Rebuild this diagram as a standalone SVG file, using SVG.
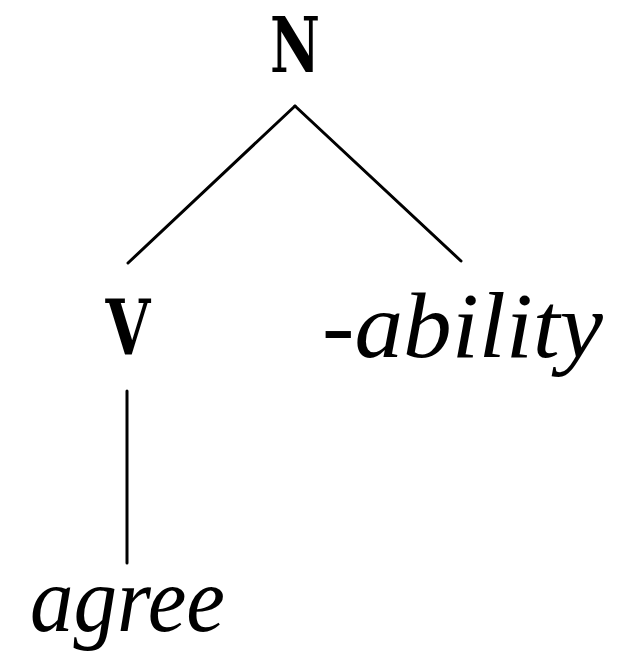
<svg xmlns="http://www.w3.org/2000/svg" width="638" height="656" viewBox="0 0 638 656">
<style>
.mono{font-family:"DejaVu Serif","Liberation Serif",serif;font-size:76px;font-weight:bold;fill:#000;text-anchor:middle}
.it{font-family:"Liberation Serif","DejaVu Serif",serif;font-style:italic;fill:#000}
.edge{stroke:#000;stroke-width:3;fill:none;stroke-linecap:round}
</style>
<rect width="638" height="656" fill="#fff"/>
<g id="edges">
<line class="edge" x1="295" y1="106" x2="128" y2="263"/>
<line class="edge" x1="295" y1="106" x2="461" y2="261"/>
<line class="edge" x1="127" y1="391" x2="127" y2="563"/>
</g>
<g id="node-N"><text class="mono" transform="translate(295,72) scale(0.72,1)">N</text></g>
<g id="node-V"><text class="mono" transform="translate(128,355) scale(0.76,1)">V</text></g>
<g id="node-ability"><text class="it" x="322" y="357" font-size="94" textLength="281" lengthAdjust="spacingAndGlyphs">-ability</text></g>
<g id="node-agree"><text class="it" x="30" y="631" font-size="94" textLength="195" lengthAdjust="spacingAndGlyphs">agree</text></g>
</svg>
